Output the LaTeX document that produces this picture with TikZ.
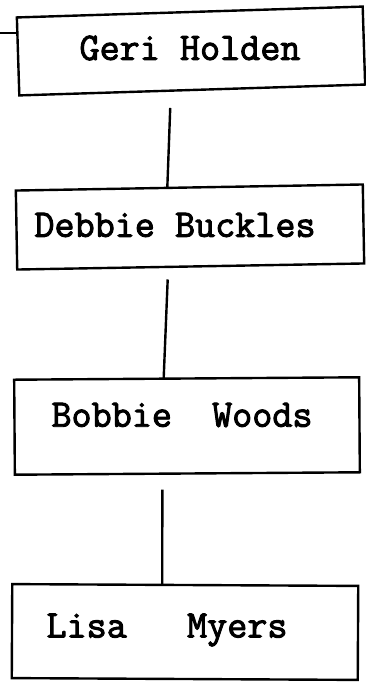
\documentclass[tikz,border=0pt]{standalone}
\usepackage{fontspec}
\newfontfamily\lblfont[FakeBold=2.5]{Latin Modern Mono}
\begin{document}
\begin{tikzpicture}[x=1pt,y=-1pt,
  box/.style={draw=black, line width=2.4pt, rectangle, inner sep=0pt, outer sep=0pt},
  lbl/.style={font=\fontsize{39}{41}\selectfont\lblfont, inner sep=0pt, anchor=center},
  conn/.style={draw=black, line width=2.4pt}]
\useasboundingbox[fill=white] (0,0) rectangle (366,685);
% boxes
\node[box, minimum width=346pt, minimum height=78pt, rotate=1.8] (b1) at (191,51) {};
\node[box, minimum width=347pt, minimum height=79pt, rotate=1.0] (b2) at (190,227) {};
\node[box, minimum width=345pt, minimum height=95pt, rotate=0.4] (b3) at (187,426) {};
\node[box, minimum width=346pt, minimum height=94pt, rotate=-0.3] (b4) at (185,632) {};
% labels
\node[lbl] (t1) at (190,48) {Geri Holden};
\node[lbl] (t2) at (175,225) {Debbie Buckles};
\node[lbl] (t3) at (182,415) {Bobbie\ \ Woods};
\node[lbl] (t4) at (167,630) {Lisa\ \ \ Myers};
% connectors
\draw[conn] ([shift={(-22pt,-18pt)}]b1.south) -- ([xshift=-22pt]b2.north);
\draw[conn] ([shift={(-23pt,-13pt)}]b2.south) -- ([xshift=-23pt]b3.north);
\draw[conn] ([shift={(-25pt,-16pt)}]b3.south) -- ([xshift=-23pt]b4.north);
% small left tick
\coordinate (m) at (0,33);
\draw[conn, line width=1.8pt] (m) -- (m -| b1.west);
\end{tikzpicture}
\end{document}
